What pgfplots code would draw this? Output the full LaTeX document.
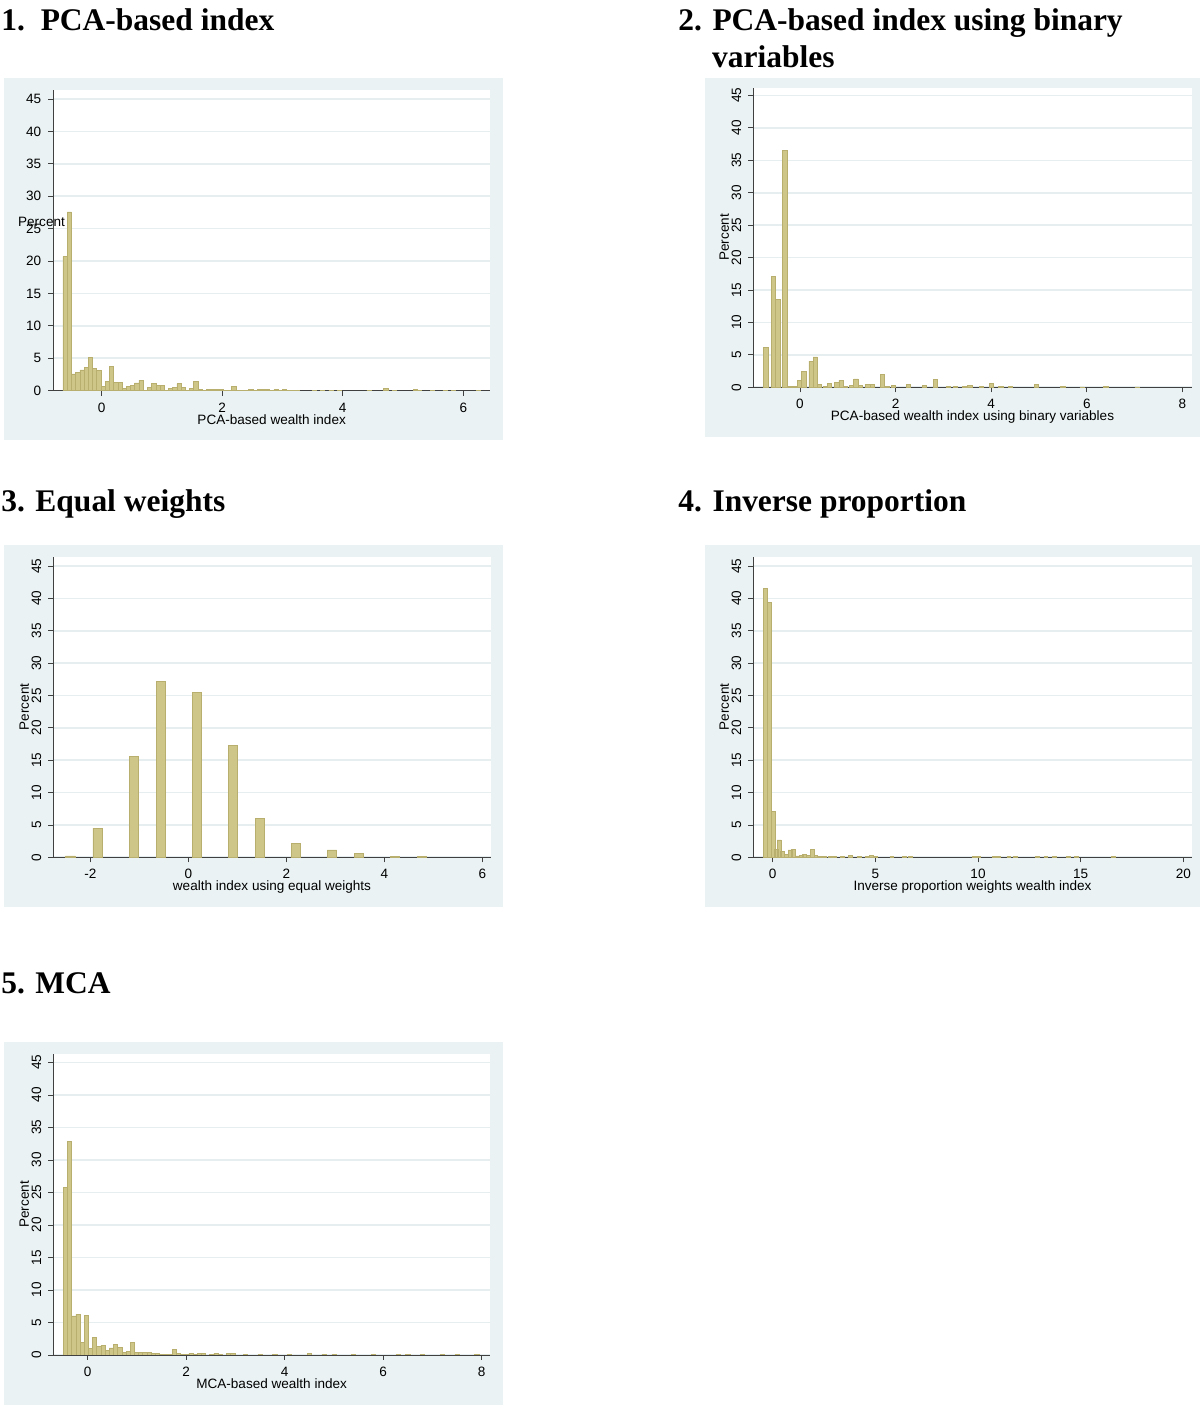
\documentclass[border=0pt]{standalone}
\usepackage{pgfplots}
\pgfplotsset{compat=1.18}
\usepackage{fontspec}
\setmainfont{Liberation Serif}
\newfontfamily\arial{Liberation Sans}

\definecolor{regionbg}{RGB}{234,242,243}
\definecolor{gridc}{RGB}{230,238,240}
\definecolor{barfill}{RGB}{206,197,136}
\definecolor{barline}{RGB}{184,174,110}

\pgfplotsset{
  statahist/.style={
    scale only axis, anchor=south west,
    axis lines*=left,
    axis line style={-, draw=black!75, line width=0.5pt},
    axis background/.style={fill=white},
    ymin=0, ytick={0,5,...,45},
    ymajorgrids, grid style={draw=gridc, line width=0.8pt},
    tick align=outside, major tick length=2.5bp,
    tick style={draw=black!75, line width=0.4pt},
    /pgf/number format/assume math mode=true,
    ticklabel style={font=\arial\fontsize{6.8}{8}\selectfont},
    label style={font=\arial\fontsize{6.8}{8}\selectfont},
    ylabel={Percent}, ylabel shift=-5.5bp,
    yticklabel style={rotate=90, anchor=south},
    xlabel style={inner sep=1pt, yshift=3.5bp},
  },
  histbar/.style={ybar, bar shift=0pt, fill=barfill, draw=barline, line width=0.3pt},
}
\tikzset{titlefont/.style={font=\bfseries\fontsize{15.8}{19}\selectfont, anchor=base west, inner sep=0pt}}

\begin{document}
\begin{tikzpicture}[x=0.5bp, y=0.5bp]
\useasboundingbox (0,0) rectangle (1200,1415);

% graph regions
\fill[regionbg] (4,975) rectangle (503,1337);
\fill[regionbg] (705,978) rectangle (1200,1337);
\fill[regionbg] (4,508) rectangle (503,870);
\fill[regionbg] (705,508) rectangle (1200,870);
\fill[regionbg] (4,10) rectangle (503,373);

% titles
\node[titlefont] at (1,1384) {1.\ \ PCA-based index};
\node[titlefont] at (678,1384) {2. PCA-based index using binary};
\node[titlefont] at (711.7,1347) {variables};
\node[titlefont] at (1,903) {3. Equal weights};
\node[titlefont] at (678,903) {4. Inverse proportion};
\node[titlefont] at (1,421) {5. MCA};

\coordinate (p1) at (53.3,1024.3);
\coordinate (p2) at (753.3,1027.7);
\coordinate (p3) at (53.3,557.7);
\coordinate (p4) at (753.3,557.7);
\coordinate (p5) at (53.3,60);

% 1. PCA-based index
\begin{axis}[statahist, at={(p1)}, width=218.35bp, height=150.35bp,
  xmin=-0.80, xmax=6.443, ymax=46.4, xtick={0,2,4,6},
  xlabel={PCA-based wealth index}, ylabel shift=0pt,
  yticklabel style={rotate=-90, anchor=east},
  ylabel style={rotate=-90, at={(axis description cs:-0.027,0.561)}, anchor=center}]
\addplot[histbar, bar width=0.07] table {
x y
-0.605 20.7
-0.535 27.6
-0.465 2.6
-0.395 2.8
-0.325 3.2
-0.255 3.6
-0.185 5.1
-0.115 3.5
-0.045 3.1
0.025 0.6
0.095 1.4
0.165 3.7
0.235 1.3
0.305 1.3
0.375 0.3
0.445 0.6
0.515 0.8
0.585 1.2
0.655 1.6
0.725 0.1
0.795 0.5
0.865 1.1
0.935 0.8
1.005 0.8
1.075 0.1
1.145 0.3
1.215 0.5
1.285 1.1
1.355 0.5
1.425 0.1
1.495 0.4
1.565 1.4
1.635 0.2
1.705 0.1
1.775 0.2
1.845 0.2
1.915 0.2
1.985 0.15
2.055 0.1
2.125 0.1
2.195 0.7
2.265 0.1
2.335 0.1
2.405 0.05
2.475 0.2
2.545 0.1
2.615 0.15
2.685 0.15
2.755 0.2
2.825 0.1
2.895 0.2
2.965 0.1
3.035 0.2
3.105 0.1
3.175 0.05
3.245 0.1
3.525 0.05
3.665 0.05
3.805 0.1
3.945 0.05
4.435 0.1
4.715 0.3
4.855 0.1
5.205 0.2
5.275 0.1
5.485 0.1
5.695 0.1
5.835 0.05
6.255 0.05
};
\end{axis}

% 2. PCA-based index using binary variables
\begin{axis}[statahist, at={(p2)}, width=219.2bp, height=149.8bp,
  xmin=-0.977, xmax=8.195, ymax=46.2, xtick={0,2,...,8},
  xlabel={PCA-based wealth index using binary variables}]
\addplot[histbar, bar width=0.09] table {
x y
-0.715 6.2
-0.558 17.1
-0.467 13.6
-0.317 36.5
-0.22 0.1
-0.13 0.1
-0.01 1.1
0.08 2.5
0.23 4.05
0.32 4.7
0.41 0.4
0.53 0.1
0.62 0.6
0.77 0.7
0.86 1.1
0.95 0.15
1.07 0.3
1.17 1.3
1.26 0.3
1.42 0.5
1.51 0.5
1.72 2.0
1.83 0.1
1.95 0.3
2.27 0.5
2.6 0.35
2.83 1.25
3.1 0.15
3.25 0.1
3.45 0.15
3.55 0.3
3.8 0.1
4.0 0.65
4.2 0.1
4.4 0.1
4.95 0.4
5.5 0.1
5.9 0.05
6.4 0.1
7.05 0.05
};
\end{axis}

% 3. Equal weights
\begin{axis}[statahist, at={(p3)}, width=218.7bp, height=150.3bp,
  xmin=-2.755, xmax=6.17, ymax=46.45, xtick={-2,0,...,6},
  xlabel={wealth index using equal weights}]
\addplot[histbar, bar width=0.19] table {
x y
-2.41 0.2
-1.85 4.5
-1.11 15.65
-0.56 27.2
0.18 25.5
0.91 17.35
1.46 6.0
2.20 2.15
2.93 1.15
3.48 0.6
4.22 0.15
4.77 0.1
};
\end{axis}

% 4. Inverse proportion
\begin{axis}[statahist, at={(p4)}, width=219.2bp, height=150.3bp,
  xmin=-0.945, xmax=20.41, ymax=46.45, xtick={0,5,...,20},
  xlabel={Inverse proportion weights wealth index}]
\addplot[histbar, bar width=0.19] table {
x y
-0.36 41.5
-0.17 39.4
0.02 7.05
0.17 1.2
0.31 2.7
0.48 0.85
0.65 0.5
0.84 1.15
1.02 1.2
1.2 0.2
1.38 0.3
1.56 0.4
1.74 0.3
1.92 1.2
2.1 0.35
2.3 0.1
2.5 0.1
2.8 0.1
3.0 0.15
3.4 0.1
3.8 0.25
4.2 0.1
4.6 0.15
4.8 0.3
5.0 0.1
5.8 0.1
6.4 0.1
6.7 0.1
9.8 0.1
10.0 0.1
10.8 0.15
11.0 0.1
11.5 0.1
11.8 0.1
12.9 0.1
13.3 0.1
13.7 0.1
14.4 0.1
14.8 0.1
16.6 0.1
};
\end{axis}

% 5. MCA
\begin{axis}[statahist, at={(p5)}, width=218.35bp, height=150.5bp,
  xmin=-0.70, xmax=8.17, ymax=46.3, xtick={0,2,...,8},
  xlabel={MCA-based wealth index}]
\addplot[histbar, bar width=0.085] table {
x y
-0.455 25.8
-0.37 32.9
-0.285 6.0
-0.2 6.25
-0.115 1.95
-0.03 6.1
0.055 1.0
0.14 2.7
0.225 1.3
0.31 1.5
0.395 0.65
0.48 1.1
0.565 1.6
0.65 1.2
0.735 0.4
0.82 0.55
0.905 1.95
0.99 0.35
1.075 0.35
1.16 0.35
1.245 0.35
1.33 0.2
1.415 0.3
1.5 0.1
1.585 0.15
1.67 0.15
1.755 0.8
1.84 0.2
1.925 0.1
2.01 0.1
2.095 0.3
2.18 0.1
2.265 0.2
2.35 0.2
2.52 0.1
2.605 0.3
2.69 0.1
2.86 0.2
2.945 0.2
3.2 0.05
3.5 0.05
3.8 0.05
4.1 0.05
4.5 0.2
4.8 0.15
5.0 0.1
5.4 0.15
5.8 0.1
6.3 0.05
6.5 0.05
6.8 0.05
7.2 0.05
7.5 0.05
7.9 0.05
};
\end{axis}
\end{tikzpicture}
\end{document}
